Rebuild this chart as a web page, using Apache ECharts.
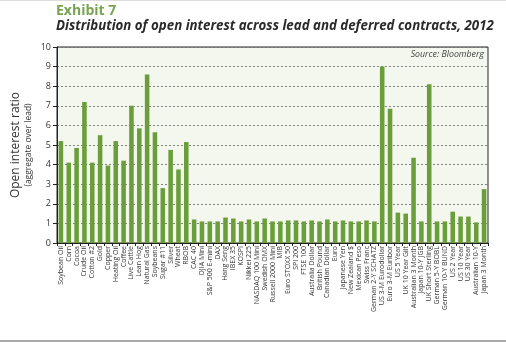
<!DOCTYPE html>
<html><head><meta charset="utf-8">
<script src="https://cdn.jsdelivr.net/npm/echarts@6/dist/echarts.min.js"></script>
<style>html,body{margin:0;padding:0;background:#fff}#c{width:506px;height:342px}</style>
</head><body><div id="c"></div>
<script>
var categories = ["Soybean Oil","Corn","Cocoa","Crude Oil","Cotton #2","Gold","Copper","Heating Oil","Coffee","Live Cattle","Lean Hog","Natural Gas","Soybeans","Sugar #11","Silver","Wheat","RBOB","CAC 40","DJIA Mini","S&P 500 E-mini","DAX","Hang Seng","IBEX 35","KOSPI","Nikkei 225","NASDAQ 100 Mini","Swedish OMX","Russell 2000 Mini","MIB","Euro STOXX 50","SPI 200","FTSE 100","Australia Dollar","British Pound","Canadian Dollar","Euro","Japanese Yen","New Zealand $","Mexican Peso","Swiss Franc","German 2-Y SCHATZ","US 3-M Eurodollar","Euro 3-M Euribor","US 5 Year","UK 10 Year Gilt","Australian 3 Month","Japan 10-Y JGB","UK Short Sterling","German 5-Y BOBL","German 10-Y BUND","US 2 Year","US 10 Year","US 30 Year","Australian 10-Y","Japan 3 Month"];
var ratios = [5.2,4.1,4.85,7.2,4.1,5.5,3.95,5.2,4.2,7.0,5.85,8.6,5.65,2.8,4.75,3.75,5.15,1.2,1.1,1.1,1.1,1.3,1.25,1.1,1.2,1.1,1.25,1.1,1.1,1.15,1.15,1.1,1.15,1.1,1.2,1.1,1.15,1.1,1.1,1.15,1.1,9.0,6.85,1.55,1.5,4.35,1.1,8.1,1.1,1.1,1.6,1.35,1.35,1.05,2.75];
var yTicks = [0,1,2,3,4,5,6,7,8,9,10];

var chart = echarts.init(document.getElementById('c'));
chart.setOption({
  animation: false,
  backgroundColor: '#ffffff',
  textStyle: {fontFamily: 'Open Sans'},
  grid: {left: 57, right: 18, top: 47, bottom: 99, show: true, backgroundColor: '#f3f7ee', borderColor: '#222', borderWidth: 1},
  xAxis: {
    type: 'category', data: categories,
    axisLine: {show: true, lineStyle: {color: '#222', width: 1}},
    axisTick: {show: true, length: 3, lineStyle: {color: '#222'}},
    axisLabel: {rotate: 90, interval: 0, fontSize: 7, color: '#333', margin: 3, fontFamily: 'Open Sans'}
  },
  yAxis: {
    type: 'value', min: yTicks[0], max: yTicks[yTicks.length-1], interval: 1,
    axisLine: {show: true, lineStyle: {color: '#222'}},
    axisTick: {show: true, length: 4, lineStyle: {color: '#222'}},
    axisLabel: {fontSize: 9, color: '#333', margin: 6},
    splitLine: {show: true, lineStyle: {color: '#666', type: [2, 2], width: 0.8}}
  },
  series: [{
    type: 'bar', data: ratios, barCategoryGap: '42%',
    itemStyle: {color: '#6a9e3b'}
  }],
  graphic: [
    {type: 'line', shape: {x1: 0, y1: 0.5, x2: 506, y2: 0.5}, style: {stroke: '#ddd', lineWidth: 1}},
    {type: 'line', shape: {x1: 0, y1: 341, x2: 506, y2: 341}, style: {stroke: '#aaa', lineWidth: 2}},
    {type: 'text', left: 56, top: 4, style: {text: 'Exhibit 7', fontSize: 14, fontWeight: 'bold', fill: '#78a451', fontFamily: 'Open Sans'}},
    {type: 'text', left: 56, top: 20, style: {text: 'Distribution of open interest across lead and deferred contracts, 2012', fontSize: 13.3, fontWeight: 'bold', fontStyle: 'italic', fill: '#2a2a2a', fontFamily: 'Open Sans'}},
    {type: 'text', right: 22, top: 50, style: {text: 'Source: Bloomberg', fontSize: 8.8, fontStyle: 'italic', fill: '#444', fontFamily: 'Open Sans'}},
    {type: 'text', x: 16, y: 145, rotation: Math.PI/2, style: {text: 'Open interest ratio', fontSize: 12, fill: '#333', align: 'center', verticalAlign: 'middle', fontFamily: 'Open Sans'}},
    {type: 'text', x: 29, y: 145, rotation: Math.PI/2, style: {text: '(aggregate over lead)', fontSize: 8.5, fill: '#333', align: 'center', verticalAlign: 'middle', fontFamily: 'Open Sans'}}
  ]
});
</script></body></html>
